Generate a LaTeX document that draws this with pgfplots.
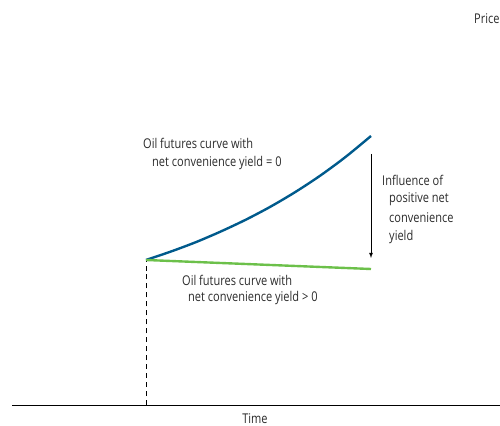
\documentclass[border=0pt]{standalone}
\usepackage{pgfplots}
\pgfplotsset{compat=1.18}
\usepackage{graphicx}
\usepackage{fontspec}
\setmainfont{Open Sans}
\definecolor{futblue}{HTML}{005A8C}
\definecolor{futgreen}{HTML}{6CC04A}
\definecolor{txt}{HTML}{2B2B2B}
\tikzset{lbl/.style={font=\fontsize{13.5}{16}\selectfont, text=txt, inner sep=0pt}}
% the source lettering is narrow: squeeze Open Sans horizontally
\newcommand{\nw}[1]{\scalebox{0.82}[1]{#1}}

\begin{document}
\begin{tikzpicture}
% canvas = page; "Price" runs off the right edge as in the source
\clip (0,0) rectangle (500bp,426bp);
\begin{axis}[
  anchor=south west, at={(0,0)},
  scale only axis,
  width=500bp, height=426bp,
  xmin=0, xmax=500, ymin=0, ymax=426,
  axis lines=none,
  clip=false,
]
% time axis and dashed start marker
\addplot[black, line width=0.8pt] coordinates {(12,21) (500,21)};
\addplot[black, line width=0.8pt, dash pattern=on 5pt off 4pt] coordinates {(146,21) (146,166)};
% futures curve, zero convenience yield
\addplot[futblue, line width=2.4pt, smooth] coordinates {
  (146,166) (171,174.5) (196,183.9) (221,194.6) (246,206.4)
  (271,219.6) (296,234.4) (321,250.9) (346,269.4) (371,290)
};
% futures curve, positive convenience yield
\addplot[futgreen, line width=2.4pt] coordinates {(146,166) (371,157)};
% influence arrow
\addplot[black, line width=0.8pt, -latex] coordinates {(371,272) (371,168)};

\node[lbl, anchor=west] at (axis cs:143,283) {\nw{Oil futures curve with}};
\node[lbl, anchor=west] at (axis cs:152,263) {\nw{net convenience yield = 0}};
\node[lbl, anchor=west] at (axis cs:182,146) {\nw{Oil futures curve with}};
\node[lbl, anchor=west] at (axis cs:188,128) {\nw{net convenience yield > 0}};
\node[lbl, anchor=west] at (axis cs:382,246) {\nw{Influence of}};
\node[lbl, anchor=west] at (axis cs:389,227) {\nw{positive net}};
\node[lbl, anchor=west] at (axis cs:389,208) {\nw{convenience}};
\node[lbl, anchor=west] at (axis cs:389,189) {\nw{yield}};
\node[lbl] at (axis cs:255,7) {\nw{Time}};
\node[lbl, anchor=west] at (axis cs:474,407) {\nw{Price}};
\end{axis}
\end{tikzpicture}
\end{document}
